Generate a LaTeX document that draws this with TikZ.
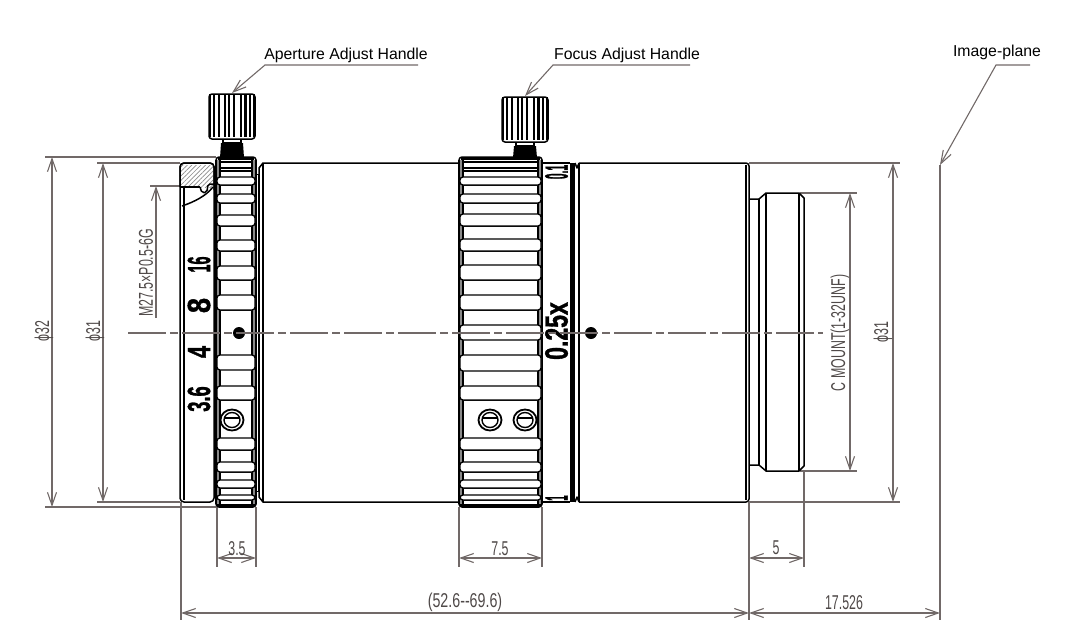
\documentclass[tikz,border=0pt]{standalone}
\usepackage{fontspec}
\setmainfont{Liberation Sans}
\newfontfamily\dimfont[FakeStretch=0.62]{Liberation Sans}
\newfontfamily\markfont[BoldFeatures={FakeBold=1.5}]{Liberation Sans}
\usetikzlibrary{arrows.meta,patterns.meta}

\definecolor{dimgrey}{HTML}{716968}
\definecolor{dimtext}{HTML}{4F4948}
\definecolor{ringgrey}{HTML}{8A8A8A}

\tikzstyle{outl}=[black,line width=1.5pt,line join=round]
\tikzstyle{dimline}=[dimgrey,line width=1.1pt]
\tikzstyle{dimarrow}=[dimline,{Straight Barb[length=13pt,width=9pt]}-{Straight Barb[length=13pt,width=9pt]}]
\tikzstyle{onearrow}=[dimline,{Straight Barb[length=13pt,width=9pt]}-]
\tikzstyle{dimlabel}=[inner sep=0pt,text=dimtext,font=\dimfont\fontsize{20}{20}\selectfont]
\tikzstyle{dimlabelv}=[dimlabel,rotate=90]
\tikzstyle{scalelabel}=[inner sep=0pt,rotate=90,font=\markfont\bfseries\fontsize{32}{32}\selectfont]
\tikzstyle{handlelabel}=[inner sep=0pt,font=\fontsize{15.8}{16}\selectfont]

% xl, xr, extra bumps
\newcommand{\knurlring}[3]{
    \draw[outl,fill=white,rounded corners=3pt] (#1,157) rectangle (#2,507);
    \fill[ringgrey] (#1,160) rectangle (#1+4,504);
    \fill[ringgrey] (#2-4,160) rectangle (#2,504);
    \draw[outl,line width=1.2pt] (#1,160) -- (#1,504) (#1+4,160) -- (#1+4,504);
    \draw[outl,line width=1.2pt] (#2,160) -- (#2,504) (#2-4,160) -- (#2-4,504);
    \foreach \ya in {162,168,171,185,203,226,251,280,310,400,450,472,488,500} {
        \draw[outl,line width=1.3pt] (#1+4,\ya) -- (#2-4,\ya);
    }
    \foreach \ya/\yb in {#3} {
        \draw[outl,line width=1.3pt,fill=white,rounded corners=3pt] (#1+1,\ya) rectangle (#2-1,\yb);
    }
    \draw[outl,line width=3pt,rounded corners=2pt] (#1+1,505) -- (#2-1,505);
    \draw[outl,line width=2.4pt,rounded corners=2pt] (#1+2,158.5) -- (#2-2,158.5);
}

% centre x, top y
\newcommand{\adjustknob}[2]{
    \fill[black] (#1-11,#2+49) -- (#1+11,#2+49) -- (#1+12,158) -- (#1-12,158) -- cycle;
    \draw[outl,fill=white] (#1-9,#2+45) rectangle (#1+9,#2+49);
    \draw[outl,fill=white,rounded corners=3pt] (#1-23,#2+8) -- (#1-23,#2) -- (#1+23,#2) -- (#1+23,#2+45) -- (#1-23,#2+45) -- cycle;
    \foreach \xa in {-22,-18,-13,-7,-3,2,9,13.5,18,22} {
        \draw[black,line width=2.7pt] (#1+\xa,#2) -- (#1+\xa,#2+43);
    }
}

% centre x
\newcommand{\setscrew}[1]{
    \draw[outl,line width=1.8pt] (#1,420) circle[x radius=11.5pt,y radius=10.5pt];
    \draw[outl,line width=1.4pt] (#1,420) circle[x radius=8pt,y radius=7.5pt];
    \draw[outl,line width=1.3pt] (#1-8,418) -- (#1+8,418);
}

\begin{document}
\begin{tikzpicture}[x=1pt,y=-1pt]
    \useasboundingbox (0,0) rectangle (1068,633);

    \coordinate (apertureKnee) at (265,65);
    \coordinate (apertureEnd) at (418,65);
    \coordinate (apertureTip) at (232,93);
    \coordinate (focusKnee) at (553,65);
    \coordinate (focusEnd) at (690,65);
    \coordinate (focusTip) at (525,96);
    \coordinate (planeKnee) at (996,65);
    \coordinate (planeEnd) at (1030,65);
    \coordinate (planeTip) at (940,165);

    \node[handlelabel] (apertureText) at (346,55) {Aperture Adjust Handle};
    \node[handlelabel] (focusText) at (627,55) {Focus Adjust Handle};
    \node[handlelabel] (planeText) at (997,52) {Image-plane};

    \draw[onearrow] (apertureTip) -- (apertureKnee) -- (apertureEnd);
    \draw[onearrow] (focusTip) -- (focusKnee) -- (focusEnd);
    \draw[onearrow] (planeTip) -- (planeKnee) -- (planeEnd);

    % extension lines
    \draw[dimline] (45,157) -- (216,157) (45,507) -- (216,507);
    \draw[dimline] (97,163) -- (180,163) (97,502) -- (180,502);
    \draw[dimline] (150,186) -- (183,186);
    \draw[dimline] (749,163) -- (900,163) (749,502) -- (900,502);
    \draw[dimline] (800,193) -- (857,193) (800,471) -- (857,471);
    \draw[dimline] (181,502) -- (181,620) (749,502) -- (749,620) (940,165) -- (940,620);
    \draw[dimline] (217,507) -- (217,567) (256,507) -- (256,567);
    \draw[dimline] (459,507) -- (459,567) (542,507) -- (542,567);
    \draw[dimline] (804,471) -- (804,567);

    % dimensions
    \draw[dimarrow] (52,157) -- (52,507);
    \draw[dimarrow] (103,163) -- (103,502);
    \draw[onearrow] (156,186) -- (156,318);
    \draw[dimarrow] (850,193) -- (850,471);
    \draw[dimarrow] (893,163) -- (893,502);
    \draw[dimarrow] (217,558) -- (256,558);
    \draw[dimarrow] (459,558) -- (542,558);
    \draw[dimarrow] (749,558) -- (804,558);
    \draw[dimarrow] (181,613) -- (749,613);
    \draw[dimarrow] (749,613) -- (940,613);

    \node[dimlabelv] (dia32) at (44,331) {ϕ32};
    \node[dimlabelv] (dia31) at (95,331) {ϕ31};
    \node[dimlabelv] (threadText) at (146,273) {M27.5×P0.5-6G};
    \node[dimlabelv] (mountText) at (840,333) {C MOUNT(1-32UNF)};
    \node[dimlabelv] (dia31r) at (883,332) {ϕ31};
    \node[dimlabel] (len35) at (237,549) {3.5};
    \node[dimlabel] (len75) at (500,549) {7.5};
    \node[dimlabel] (len5) at (776,548) {5};
    \node[dimlabel] (lenTotal) at (465,602) {\scalebox{1.15}[1]{(52.6--69.6)}};
    \node[dimlabel] (lenPlane) at (844,603) {17.526};

    % front part
    \draw[outl,fill=white,rounded corners=4pt] (180,163) rectangle (214,502);
    \fill[white] (181,164.5) rectangle (213,187);
    \fill[pattern={Lines[angle=45,distance=3.2pt,line width=.7pt]},pattern color=ringgrey] (181,165) rectangle (213,187);
    \draw[outl,rounded corners=4pt] (180,187) -- (180,163) -- (214,163) -- (214,190);
    \draw[outl] (180,187) -- (200,187);
    \draw[outl] (184,187) -- (184,500);
    \draw[outl,rounded corners=2pt] (200,187) -- (202,193) -- (207,192) -- (208,184) -- (214,184);
    \draw[outl] (182,206) .. controls (194,202) and (206,196) .. (213,187);

    % barrel
    \draw[outl] (259,174) -- (259,168) -- (263,163) -- (459,163);
    \draw[outl] (259,491) -- (259,497) -- (263,502) -- (459,502);
    \draw[outl] (263,163) -- (263,502) (259,174) -- (259,491);
    \draw[outl,line width=1pt] (256,174) -- (259,174) (256,491) -- (259,491);
    \draw[outl] (542,163) -- (570,163) (542,502) -- (570,502);
    \draw[outl] (575,163) -- (577,168) -- (579,163);
    \draw[outl] (575,502) -- (577,497) -- (579,502);
    \fill[black] (570,163) rectangle (575,502);
    \draw[outl] (579,163) -- (579,502);
    \draw[outl,rounded corners=3pt] (579,163) -- (749,163) -- (749,502) -- (579,502);
    \draw[outl] (746,165) -- (746,500);

    % mount
    \draw[outl] (749,199) -- (759,199) -- (766,193) -- (799,193) -- (804,198) -- (804,466) -- (799,471) -- (766,471) -- (759,465) -- (749,465);
    \draw[outl] (759,199) -- (759,465) (766,193) -- (766,471) (799,193) -- (799,471);

    % rings
    \knurlring{216}{256}{177/185,194/203,215/226,240/251,266/280,295/310,355/370,386/400,438/450,462/472,480/488,495/500}
    \knurlring{459}{542}{177/185,194/203,214/226,239/251,265/280,295/310,325/340,355/371,386/400,438/450,462/472,480/488,495/500}
    \adjustknob{232}{94}
    \adjustknob{525}{97}
    \setscrew{232}
    \setscrew{490}
    \setscrew{525}
    \fill[black] (239,333) circle[radius=6pt];
    \fill[black] (591,333) circle[radius=6pt];

    % scale marks
    \node[scalelabel] (mark16) at (199,264.5) {\scalebox{.45}[1]{16}};
    \node[scalelabel] (mark8) at (199,305.5) {\scalebox{.85}[1]{8}};
    \node[scalelabel] (mark4) at (199,352) {\scalebox{.68}[1]{4}};
    \node[scalelabel] (mark36) at (199,399) {\scalebox{.57}[1]{3.6}};
    \node[scalelabel] (mark025) at (556.5,331) {\scalebox{.72}[1]{0.25x}};
    \node[scalelabel] (mark01) at (556.5,172) {\scalebox{.32}[1]{0.1}};
    \node[scalelabel] (markInf) at (556.5,498) {\scalebox{.3}[1]{1}};

    % centre line
    \draw[dimline,dash pattern=on 38pt off 4pt on 8pt off 4pt] (128,333) -- (823,333);
\end{tikzpicture}
\end{document}
